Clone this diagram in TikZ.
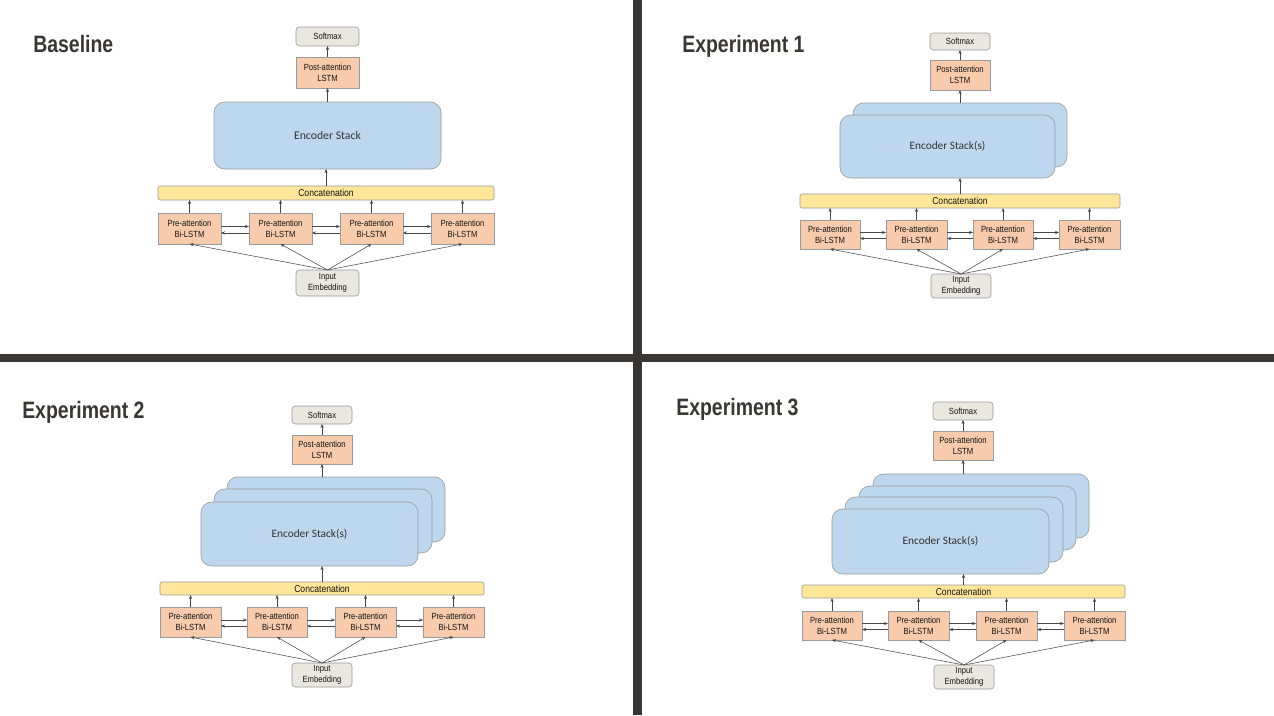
\documentclass[tikz,border=0pt]{standalone}
\usepackage{fontspec}
\setmainfont{Liberation Sans}
\newfontfamily\boxfont{Liberation Sans}[FakeStretch=0.86]
\newfontfamily\titlefont{Liberation Sans Bold}[FakeStretch=0.82]
\newfontfamily\encfont{Carlito}
\usetikzlibrary{arrows.meta}
\definecolor{peach}{HTML}{F8CBAD}
\definecolor{skyb}{HTML}{BDD7EE}
\definecolor{concatY}{HTML}{FFE699}
\definecolor{beige}{HTML}{EAE7E0}
\definecolor{bordr}{HTML}{9A9A9A}
\definecolor{arrowc}{HTML}{474747}
\definecolor{divc}{HTML}{3A3634}
\definecolor{titlec}{HTML}{3A3634}
\newcommand{\mybox}[7]{\node[#1, minimum width={(#5-#3)*0.75pt}, minimum height={(#6-#4)*0.75pt}] (#2) at ({(#3+#5)/2},{(#4+#6)/2}) {#7};}
\tikzset{
 base/.style={draw=bordr, line width=0.45pt, inner sep=0pt, outer sep=0pt, align=center, text=black!92},
 softbox/.style={base, fill=beige, rounded corners=2.5pt, font=\boxfont\fontsize{6.7}{8.5}\selectfont},
 lstmbox/.style={base, fill=peach, font=\boxfont\fontsize{6.7}{8.5}\selectfont},
 concatbox/.style={base, fill=concatY, rounded corners=1.5pt, font=\boxfont\fontsize{7.5}{9}\selectfont},
 encbox/.style={base, fill=skyb, rounded corners=8pt, text=black!80, font=\encfont\fontsize{8.5}{10}\selectfont},
 arr/.style={draw=arrowc, line width=0.4pt, -{Stealth[length=3pt,width=2.4pt]}},
 paneltitle/.style={anchor=base west, inner sep=0pt, text=titlec, font=\titlefont\fontsize{17.8}{20}\selectfont},
 divider/.style={fill=divc, draw=none},
}
\begin{document}
\begin{tikzpicture}[x=0.75pt, y=-0.75pt]
\useasboundingbox (0,0) rectangle (1274,715);
\fill[white] (0,0) rectangle (1274,715);
% dividers
\path[divider] (633,0) rectangle (642,715);
\path[divider] (0,354) rectangle (1274,362);

% ================= Baseline =================
\node[paneltitle] (t0) at (33,52) {Baseline};
\mybox{softbox}{bsm}{296}{27}{359}{46}{Softmax}
\mybox{lstmbox}{bpost}{296}{57}{359}{88}{Post-attention\\LSTM}
\mybox{encbox}{benc}{214}{102}{441}{169}{\fontsize{8.8}{10}\selectfont Encoder Stack}
\mybox{concatbox}{bcat}{158}{186}{494}{200}{Concatenation}
\mybox{lstmbox}{bp1}{158}{213}{221}{244}{Pre-attention\\Bi-LSTM}
\mybox{lstmbox}{bp2}{249}{213}{312}{244}{Pre-attention\\Bi-LSTM}
\mybox{lstmbox}{bp3}{340}{213}{403}{244}{Pre-attention\\Bi-LSTM}
\mybox{lstmbox}{bp4}{431}{213}{494}{244}{Pre-attention\\Bi-LSTM}
\mybox{softbox}{bin}{296}{270}{359}{296}{Input\\Embedding}
\draw[arr] (bpost.north) -- (bsm.south);
\draw[arr] (bpost.south |- benc.north) -- (bpost.south);
\draw[arr] (bcat.north) -- (bcat.north |- benc.south);
\foreach \p in {bp1,bp2,bp3,bp4}{
  \draw[arr] (\p.north) -- (\p.north |- bcat.south);
  \draw[arr] (bin.north) -- (\p.south);
}
\foreach \a/\b in {bp1/bp2,bp2/bp3,bp3/bp4}{
  \draw[arr] ([yshift=1.5pt]\a.east) -- ([yshift=1.5pt]\b.west);
  \draw[arr] ([yshift=-3.3pt]\b.west) -- ([yshift=-3.3pt]\a.east);
}

% ================= Experiment 1 =================
\node[paneltitle] (t1) at (682,52) {Experiment 1};
\mybox{softbox}{asm}{930}{33}{990}{50}{Softmax}
\mybox{lstmbox}{apost}{930}{60}{990}{90}{Post-attention\\LSTM}
\mybox{encbox}{aencb}{853}{103}{1067}{167}{}
\mybox{encbox}{aenc}{840}{115}{1055}{178}{Encoder Stack(s)}
\mybox{concatbox}{acat}{800}{194}{1120}{208}{Concatenation}
\mybox{lstmbox}{ap1}{800}{220}{860}{249}{Pre-attention\\Bi-LSTM}
\mybox{lstmbox}{ap2}{886}{220}{947}{249}{Pre-attention\\Bi-LSTM}
\mybox{lstmbox}{ap3}{973}{220}{1033}{249}{Pre-attention\\Bi-LSTM}
\mybox{lstmbox}{ap4}{1059}{220}{1120}{249}{Pre-attention\\Bi-LSTM}
\mybox{softbox}{ain}{931}{274}{991}{298}{Input\\Embedding}
\draw[arr] (apost.north) -- (asm.south);
\draw[arr] (apost.south |- aencb.north) -- (apost.south);
\draw[arr] (acat.north) -- (acat.north |- aenc.south);
\foreach \p in {ap1,ap2,ap3,ap4}{
  \draw[arr] (\p.north) -- (\p.north |- acat.south);
  \draw[arr] (ain.north) -- (\p.south);
}
\foreach \a/\b in {ap1/ap2,ap2/ap3,ap3/ap4}{
  \draw[arr] ([yshift=1.5pt]\a.east) -- ([yshift=1.5pt]\b.west);
  \draw[arr] ([yshift=-3pt]\b.west) -- ([yshift=-3pt]\a.east);
}

% ================= Experiment 2 =================
\node[paneltitle] (t2) at (22,418) {Experiment 2};
\mybox{softbox}{csm}{292}{406}{352}{424}{Softmax}
\mybox{lstmbox}{cpost}{292}{435}{352}{464}{Post-attention\\LSTM}
\mybox{encbox}{cencc}{227}{477}{445}{542}{}
\mybox{encbox}{cencb}{214}{489}{432}{553}{}
\mybox{encbox}{cenc}{201}{502}{418}{566}{Encoder Stack(s)}
\mybox{concatbox}{ccat}{160}{582}{484}{595}{Concatenation}
\mybox{lstmbox}{cp1}{160}{607}{221}{637}{Pre-attention\\Bi-LSTM}
\mybox{lstmbox}{cp2}{247}{607}{307}{637}{Pre-attention\\Bi-LSTM}
\mybox{lstmbox}{cp3}{335}{607}{396}{637}{Pre-attention\\Bi-LSTM}
\mybox{lstmbox}{cp4}{423}{607}{484}{637}{Pre-attention\\Bi-LSTM}
\mybox{softbox}{cin}{292}{663}{352}{687}{Input\\Embedding}
\draw[arr] (cpost.north) -- (csm.south);
\draw[arr] (cpost.south |- cencc.north) -- (cpost.south);
\draw[arr] (ccat.north) -- (ccat.north |- cenc.south);
\foreach \p in {cp1,cp2,cp3,cp4}{
  \draw[arr] (\p.north) -- (\p.north |- ccat.south);
  \draw[arr] (cin.north) -- (\p.south);
}
\foreach \a/\b in {cp1/cp2,cp2/cp3,cp3/cp4}{
  \draw[arr] ([yshift=1.5pt]\a.east) -- ([yshift=1.5pt]\b.west);
  \draw[arr] ([yshift=-3pt]\b.west) -- ([yshift=-3pt]\a.east);
}

% ================= Experiment 3 =================
\node[paneltitle] (t3) at (676,415) {Experiment 3};
\mybox{softbox}{dsm}{933}{402}{993}{420}{Softmax}
\mybox{lstmbox}{dpost}{933}{431}{993}{460}{Post-attention\\LSTM}
\mybox{encbox}{dencd}{873}{474}{1089}{538}{}
\mybox{encbox}{dencc}{859}{486}{1076}{550}{}
\mybox{encbox}{dencb}{845}{497}{1063}{562}{}
\mybox{encbox}{denc}{832}{509}{1049}{574}{Encoder Stack(s)}
\mybox{concatbox}{dcat}{802}{585}{1125}{598}{Concatenation}
\mybox{lstmbox}{dp1}{802}{611}{862}{640}{Pre-attention\\Bi-LSTM}
\mybox{lstmbox}{dp2}{888}{611}{949}{640}{Pre-attention\\Bi-LSTM}
\mybox{lstmbox}{dp3}{976}{611}{1037}{640}{Pre-attention\\Bi-LSTM}
\mybox{lstmbox}{dp4}{1064}{611}{1125}{640}{Pre-attention\\Bi-LSTM}
\mybox{softbox}{din}{934}{665}{994}{689}{Input\\Embedding}
\draw[arr] (dpost.north) -- (dsm.south);
\draw[arr] (dpost.south |- dencd.north) -- (dpost.south);
\draw[arr] (dcat.north) -- (dcat.north |- denc.south);
\foreach \p in {dp1,dp2,dp3,dp4}{
  \draw[arr] (\p.north) -- (\p.north |- dcat.south);
  \draw[arr] (din.north) -- (\p.south);
}
\foreach \a/\b in {dp1/dp2,dp2/dp3,dp3/dp4}{
  \draw[arr] ([yshift=1.5pt]\a.east) -- ([yshift=1.5pt]\b.west);
  \draw[arr] ([yshift=-3pt]\b.west) -- ([yshift=-3pt]\a.east);
}
\end{tikzpicture}
\end{document}
